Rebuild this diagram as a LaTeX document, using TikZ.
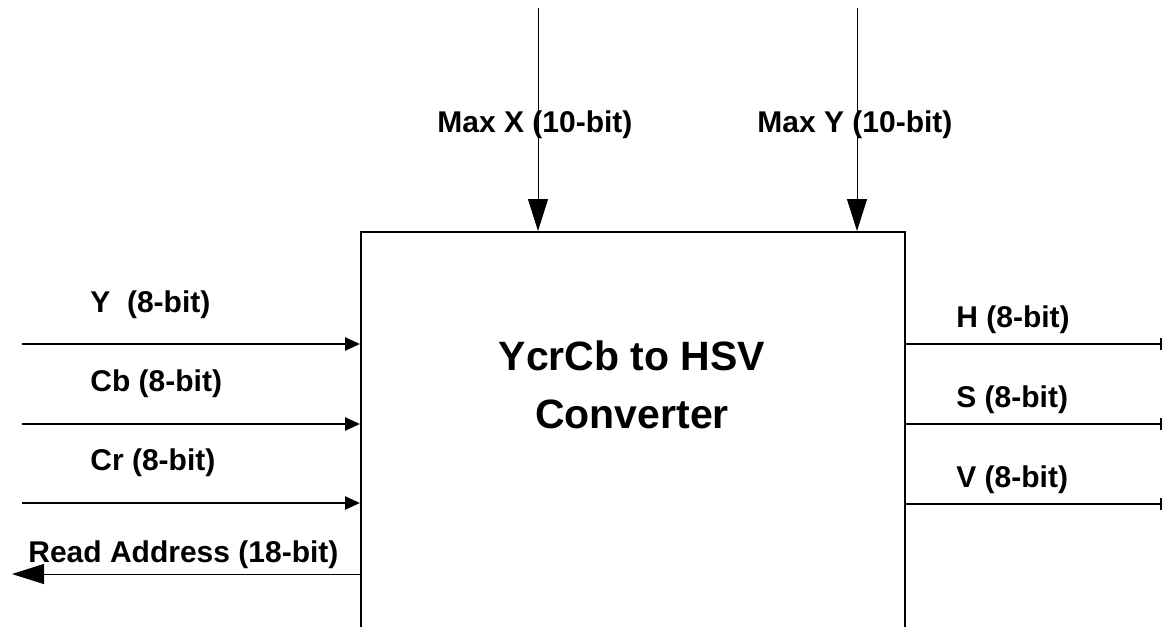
\documentclass[tikz,border=0pt]{standalone}
\usepackage{fontspec}
\setmainfont{Liberation Sans}
\usepackage{tikz}
\usetikzlibrary{arrows.meta,positioning}

\begin{document}
\begin{tikzpicture}[x=0.5pt, y=-0.5pt,
  every node/.style={font=\bfseries\fontsize{15}{18}\selectfont, inner sep=0pt},
  lbl/.style={anchor=base west},
  bus/.style={line width=1.3pt, -{Triangle[length=7.5pt, width=6.5pt]}},
  outbus/.style={line width=1.3pt, -{Bar[width=6pt, line width=1pt]}},
  bigtip/.style={line width=0.5pt, -{Triangle[length=16pt, width=10pt]}}]
  \useasboundingbox (0,0) rectangle (1163,627);
  \clip (0,0) rectangle (1163,627);
  % converter block, open at the bottom edge
  \node[draw, line width=0.8pt, minimum width=272pt, minimum height=220pt, anchor=north west] (conv) at (360,231) {};
  \node[align=center, font=\bfseries\fontsize{20.5}{29}\selectfont] (title) at (632,385) {YcrCb to HSV\\Converter};
  % top inputs
  \coordinate (maxx) at (538,8);
  \coordinate (maxy) at (857,8);
  \draw[bigtip] (maxx) -- (maxx |- conv.north);
  \draw[bigtip] (maxy) -- (maxy |- conv.north);
  \node[lbl] (maxxlbl) at (437,132) {Max X (10-bit)};
  \node[lbl] (maxylbl) at (757,132) {Max Y (10-bit)};
  % left inputs
  \coordinate (yin) at (22,344);
  \coordinate (cbin) at (22,424);
  \coordinate (crin) at (22,503);
  \coordinate (raddr) at (12,574);
  \draw[bus] (yin) -- (yin -| conv.west);
  \draw[bus] (cbin) -- (cbin -| conv.west);
  \draw[bus] (crin) -- (crin -| conv.west);
  \draw[bigtip] (raddr -| conv.west) -- (raddr);
  \node[lbl] (ylbl) at (90,312) {Y~~(8-bit)};
  \node[lbl] (cblbl) at (90,391) {Cb (8-bit)};
  \node[lbl] (crlbl) at (90,470) {Cr (8-bit)};
  \node[lbl] (raddrlbl) at (28,562) {Read Address (18-bit)};
  % right outputs
  \coordinate (hout) at (1162,344);
  \coordinate (sout) at (1162,424);
  \coordinate (vout) at (1162,504);
  \draw[outbus] (hout -| conv.east) -- (hout);
  \draw[outbus, line width=0.9pt] (sout -| conv.east) -- (sout);
  \draw[outbus] (vout -| conv.east) -- (vout);
  \node[lbl] (hlbl) at (956,327) {H (8-bit)};
  \node[lbl] (slbl) at (956,407) {S (8-bit)};
  \node[lbl] (vlbl) at (956,487) {V (8-bit)};
\end{tikzpicture}
\end{document}
